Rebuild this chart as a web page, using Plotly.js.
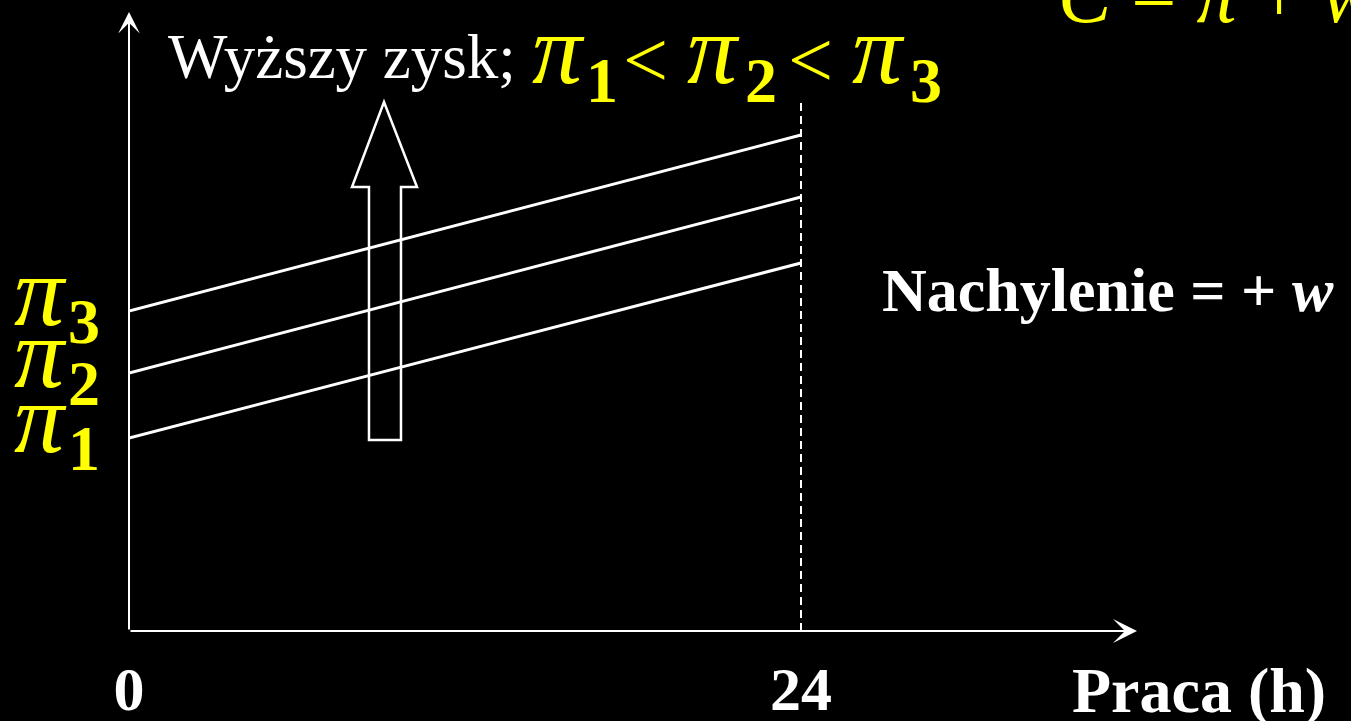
<!DOCTYPE html>
<html><head><meta charset="utf-8">
<script src="https://cdn.plot.ly/plotly-3.0.1.min.js"></script>
<style>html,body{margin:0;padding:0;background:#000;}#chart{width:1351px;height:721px;}</style>
</head><body><div id="chart"></div>
<script>
// ---- data ----
const hours = [0, 24];
const hourTickLabels = ['0', '24'];
const profitIndex = ['1', '2', '3'];
const consumptionPi1 = [19.3, 36.8];
const consumptionPi2 = [25.8, 43.4];
const consumptionPi3 = [32.0, 49.6];
const xAxisMax = 36;
const yAxisMax = 61.9;
const dashTop = 53.0;

// ---- layout helpers ----
const W = 1351, H = 721;
const M = {l: 129, r: 214, t: 12, b: 90};
const PW = W - M.l - M.r, PH = H - M.t - M.b;
const SERIF = '"Liberation Serif", "Times New Roman", serif';
const YEL = '#ffff00';
const PI_SIZE = 100;
const paperX = p => (p - M.l) / PW;
const paperY = p => (H - M.b - p) / PH;
const CEN = 0.3375; // baseline -> box centre (em)

function txt(text, xPx, basePx, size, o) {
  o = o || {};
  return {
    xref: 'paper', yref: 'paper', x: paperX(xPx), y: paperY(basePx - CEN * size),
    xanchor: o.anchor || 'left', yanchor: 'middle', text: text, showarrow: false,
    font: {family: SERIF, size: size, color: o.color || '#ffffff',
           weight: o.weight || 'normal', style: o.style || 'normal'}
  };
}
function piLabel(intercept, idx) {
  return [
    {xref: 'paper', yref: 'y', x: paperX(12), y: intercept, xanchor: 'left', yanchor: 'middle',
     yshift: CEN * PI_SIZE - 14, text: 'π', showarrow: false,
     font: {family: SERIF, size: PI_SIZE, color: YEL, style: 'italic'}},
    {xref: 'paper', yref: 'y', x: paperX(66), y: intercept, xanchor: 'left', yanchor: 'middle',
     yshift: CEN * 64 - 32, text: idx, showarrow: false,
     font: {family: SERIF, size: 64, color: YEL, weight: 'bold'}}
  ];
}

const series = [consumptionPi1, consumptionPi2, consumptionPi3];
const traces = series.map((s, i) => ({
  x: hours, y: s, type: 'scatter', mode: 'lines', hoverinfo: 'skip',
  line: {color: '#ffffff', width: 3}, name: 'π' + profitIndex[i], showlegend: false
}));

// hollow up arrow (data coords)
const arrowPath = 'M8.571,19.1 L9.714,19.1 L9.714,44.4 L10.286,44.4 L9.107,52.9 L7.964,44.4 L8.571,44.4 Z';

const annotations = [
  // axes with arrow heads
  {xref: 'x', yref: 'y', axref: 'x', ayref: 'y', x: xAxisMax, y: 0, ax: 0, ay: 0, text: '',
   showarrow: true, arrowhead: 3, arrowsize: 2, arrowwidth: 2, arrowcolor: '#ffffff'},
  {xref: 'x', yref: 'y', axref: 'x', ayref: 'y', x: 0, y: yAxisMax, ax: 0, ay: 0, text: '',
   showarrow: true, arrowhead: 3, arrowsize: 1.8, arrowwidth: 2, arrowcolor: '#ffffff'},
  // texts
  txt('Wyższy zysk;', 166, 78, 63),
  txt('π', 530, 83, PI_SIZE, {color: YEL, style: 'italic'}),
  txt(profitIndex[0], 584, 102, 64, {color: YEL, weight: 'bold'}),
  txt('<', 621, 87, 80, {color: YEL}),
  txt('π', 685, 83, PI_SIZE, {color: YEL, style: 'italic'}),
  txt(profitIndex[1], 743, 102, 64, {color: YEL, weight: 'bold'}),
  txt('<', 786, 87, 80, {color: YEL}),
  txt('π', 850, 83, PI_SIZE, {color: YEL, style: 'italic'}),
  txt(profitIndex[2], 908, 102, 64, {color: YEL, weight: 'bold'}),
  txt('<b>Nachylenie = + <i>w</i></b>', 880, 311, 62),
  txt('<b>Praca (h)</b>', 1070, 712, 64),
  txt('<i>C</i> = <i>π</i> + <i>wh</i>', 1056, 22, 80, {color: YEL})
].concat(
  piLabel(consumptionPi1[0], profitIndex[0]),
  piLabel(consumptionPi2[0], profitIndex[1]),
  piLabel(consumptionPi3[0], profitIndex[2])
);

const layout = {
  width: W, height: H, margin: M,
  paper_bgcolor: '#000000', plot_bgcolor: '#000000', showlegend: false,
  xaxis: {range: [0, xAxisMax], showgrid: false, zeroline: false, showline: false,
          tickmode: 'array', tickvals: hours, ticktext: hourTickLabels, ticks: '',
          ticklabelstandoff: 16,
          tickfont: {family: SERIF, size: 62, color: '#ffffff', weight: 'bold'}},
  yaxis: {range: [0, yAxisMax], showgrid: false, zeroline: false, showline: false,
          showticklabels: false, ticks: ''},
  shapes: [
    {type: 'line', xref: 'x', yref: 'y', x0: hours[1], x1: hours[1], y0: 0, y1: dashTop,
     line: {color: '#ffffff', width: 2, dash: '8px,5px'}},
    {type: 'path', xref: 'x', yref: 'y', path: arrowPath,
     line: {color: '#ffffff', width: 2.5}, fillcolor: 'rgba(0,0,0,0)'}
  ],
  annotations: annotations
};

Plotly.newPlot('chart', traces, layout, {displayModeBar: false, staticPlot: true});
</script>
</body></html>
